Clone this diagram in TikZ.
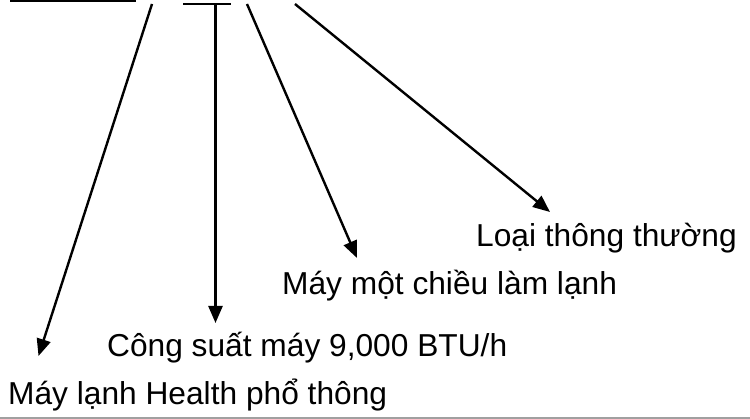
\documentclass[tikz,border=0pt]{standalone}
\usepackage{fontspec}
\setmainfont{Liberation Sans}
\usetikzlibrary{arrows.meta}
\begin{document}
\begin{tikzpicture}[x=1pt,y=-1pt,
  lbl/.style={anchor=base west,inner sep=0pt,font=\fontsize{31.7}{36}\selectfont},
  conn/.style={line width=2.4pt,-{Triangle[length=17pt,width=14pt]}},
  bar/.style={line width=2.5pt}]
\useasboundingbox (0,0) rectangle (750,419);
% top fragments
\coordinate (u1) at (10,1.2);
\coordinate (u2) at (136,1.2);
\draw[bar] (u1) -- (u2);
\coordinate (t1) at (183,4);
\coordinate (t2) at (231,4);
\draw[bar] (t1) -- (t2);
% start points
\coordinate (s1) at (152,4);
\coordinate (s2) at (215.5,4);
\coordinate (s3) at (247,4);
\coordinate (s4) at (295,4);
% tips
\coordinate (e1) at (38.5,356);
\coordinate (e2) at (215.5,323);
\coordinate (e3) at (357,258);
\coordinate (e4) at (550,212);
\draw[conn] (s1) -- (e1);
\draw[conn] (s2) -- (e2);
\draw[conn] (s3) -- (e3);
\draw[conn] (s4) -- (e4);
% labels
\node[lbl] (l4) at (476,247) {Loại thông thường};
\node[lbl] (l3) at (282,295) {Máy một chiều làm lạnh};
\node[lbl] (l2) at (107,357) {Công suất máy 9,000 BTU/h};
\node[lbl] (l1) at (8,405) {Máy lạnh Health phổ thông};
% bottom rule
\coordinate (b1) at (0,418);
\coordinate (b2) at (750,418);
\draw[line width=1.2pt,color={rgb,255:red,160;green,160;blue,160}] (b1) -- (b2);
\end{tikzpicture}
\end{document}
